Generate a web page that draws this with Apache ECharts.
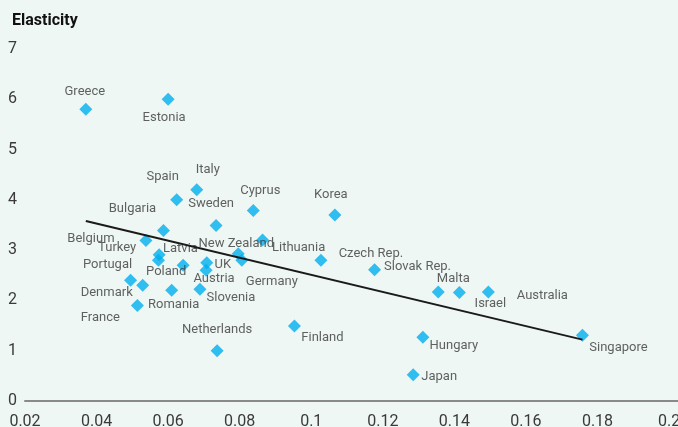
<!DOCTYPE html>
<html>
<head>
<meta charset="utf-8">
<script src="https://cdn.jsdelivr.net/npm/echarts@6/dist/echarts.min.js"></script>
<style>
html,body{margin:0;padding:0;background:#eef7f3;}
#chart{width:678px;height:427px;}
</style>
</head>
<body>
<div id="chart"></div>
<script>
// ---- Data ----
var countries = ["Greece","Estonia","Italy","Spain","Cyprus","Korea","Bulgaria","Sweden","Belgium","Lithuania","New Zealand","Germany","Czech Rep.","Slovak Rep.","Turkey","Latvia","Poland","UK","Austria","Portugal","Denmark","Romania","Slovenia","France","Netherlands","Finland","Malta","Israel","Australia","Hungary","Japan","Singapore"];
var xValues = [0.037,0.060,0.068,0.0624,0.0838,0.1066,0.0587,0.0734,0.0538,0.0864,0.0796,0.0806,0.1027,0.1177,0.0575,0.0573,0.0642,0.0708,0.0706,0.0495,0.0529,0.0610,0.0689,0.0514,0.0737,0.0953,0.1355,0.1414,0.1495,0.1312,0.1285,0.1758];
var yValues = [5.8,6.0,4.2,4.0,3.79,3.70,3.39,3.49,3.19,3.20,2.93,2.80,2.80,2.61,2.91,2.80,2.70,2.75,2.60,2.40,2.30,2.20,2.22,1.90,1.0,1.49,2.17,2.16,2.17,1.27,0.52,1.31];
var trendX = [0.0370, 0.1758];
var trendY = [3.58, 1.22];
var yTicks = [0,1,2,3,4,5,6,7];
var xTicks = [0.02,0.04,0.06,0.08,0.1,0.12,0.14,0.16,0.18,0.2];

// ---- Label placement (pixel offsets from marker centre) ----
var labelOffsets = {
  "Greece":[-1,-18],"Estonia":[-4,18],"Italy":[11,-20],"Spain":[-14,-23],"Cyprus":[7,-20],
  "Korea":[-4,-20],"Bulgaria":[-31,-22],"Sweden":[-5,-22],"Belgium":[-55,-2],"Lithuania":[36,8],
  "New Zealand":[-2,-10],"Germany":[30,22],"Czech Rep.":[50,-6],"Slovak Rep.":[43,-3],
  "Turkey":[-42,-7],"Latvia":[22,-11],"Poland":[-17,7],"UK":[16,2],"Austria":[8,8],
  "Portugal":[-23,-16],"Denmark":[-36,7],"Romania":[2,14],"Slovenia":[31,8],"France":[-37,12],
  "Netherlands":[0,-21],"Finland":[28,12],"Malta":[15,-13],"Israel":[31,11],"Australia":[54,4],
  "Hungary":[31,9],"Japan":[26,2],"Singapore":[36,13]
};

var points = countries.map(function(c,i){
  return {
    name: c,
    value: [xValues[i], yValues[i]],
    label: {show:true, position:'inside', offset: labelOffsets[c] || [0,0]}
  };
});
var trend = trendX.map(function(x,i){ return [x, trendY[i]]; });

var chart = echarts.init(document.getElementById('chart'));
chart.setOption({
  backgroundColor: '#eef7f3',
  animation: false,
  title: {
    text: 'Elasticity', left: 7, top: 8,
    textStyle: {fontFamily: 'Roboto', fontSize: 16, fontWeight: 'bold', color: '#111'}
  },
  grid: {left: 25, right: 0, top: 49, bottom: 26, containLabel: false, outerBoundsMode: 'none'},
  xAxis: {
    type: 'value', min: 0.02, max: 0.2025, interval: 0.02, offset: 5,
    axisLine: {show: true, lineStyle: {color: '#8a8a8a', width: 2}},
    axisTick: {show: false},
    splitLine: {show: false},
    axisLabel: {
      customValues: xTicks,
      margin: 8, fontFamily: 'Roboto', fontSize: 16, color: '#3a3a3a',
      formatter: function(v){ return String(+v.toFixed(2)); }
    }
  },
  yAxis: {
    type: 'value', min: 0, max: 7, interval: 1,
    axisLine: {show: false},
    axisTick: {show: false},
    splitLine: {show: false},
    axisLabel: {customValues: yTicks, margin: 8, fontFamily: 'Roboto', fontSize: 16, color: '#3a3a3a'}
  },
  series: [
    {
      type: 'scatter', z: 2,
      symbol: 'diamond', symbolSize: 13,
      itemStyle: {color: '#00aeef'},
      label: {fontFamily: 'Roboto', fontSize: 13, color: '#3a3a3a', formatter: '{b}'},
      emphasis: {disabled: true},
      data: points
    },
    {
      type: 'line', z: 3, symbol: 'none', silent: true,
      lineStyle: {color: '#1a1a1a', width: 2},
      data: trend
    }
  ]
});
</script>
</body>
</html>
